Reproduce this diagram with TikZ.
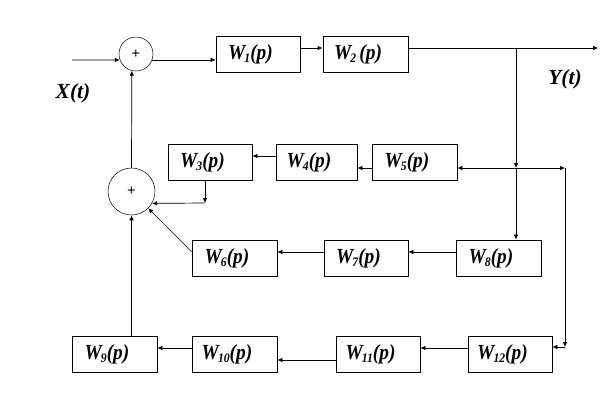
\documentclass[tikz,border=0pt]{standalone}
\usepackage{fontspec}
\setmainfont{Liberation Serif}
\usetikzlibrary{arrows.meta}
\newcommand\wlab[2][]{\scalebox{0.9}[1]{\textbf{\textit{W\kern-1pt\raisebox{-3pt}{\fontsize{13}{13}\selectfont #2}#1(p)}}}\hspace*{15pt}}
\tikzset{
  blk/.style={draw, line width=0.7pt, minimum height=36pt, inner sep=0pt, font=\fontsize{21.5}{21.5}\selectfont},
  sumc/.style={draw, circle, line width=0.5pt, inner sep=0pt, font=\bfseries\fontsize{15}{15}\selectfont},
  arr/.style={line width=0.7pt, -{Latex[length=5pt,width=4.5pt]}},
  ln/.style={line width=0.7pt},
  sig/.style={font=\bfseries\itshape\fontsize{21.5}{21.5}\selectfont}
}
\begin{document}
\begin{tikzpicture}[x=1pt,y=-1pt]
\useasboundingbox (0,0) rectangle (615,408);
% summing junctions
\node[sumc, minimum size=34pt] (s1) at (136,54) {+};
\node[sumc, minimum size=47pt] (s2) at (131.5,191.5) {+};
% blocks
\node[blk, minimum width=84pt] (W1) at (258,54) {\wlab{1}};
\node[blk, minimum width=85pt] (W2) at (365.5,54) {\wlab[\,]{2}};
\node[blk, minimum width=84pt] (W3) at (210,162.5) {\wlab{3}};
\node[blk, minimum width=81pt] (W4) at (316.5,162.5) {\wlab{4}};
\node[blk, minimum width=85pt] (W5) at (414.5,162.5) {\wlab{5}};
\node[blk, minimum width=85pt] (W6) at (234.5,258) {\wlab{6}};
\node[blk, minimum width=84pt] (W7) at (366,258) {\wlab{7}};
\node[blk, minimum width=85pt] (W8) at (498.5,258) {\wlab{8}};
\node[blk, minimum width=85pt] (W9) at (114.5,354) {\wlab{9}};
\node[blk, minimum width=85pt] (W10) at (234.5,354) {\wlab{10}};
\node[blk, minimum width=84pt] (W11) at (378,354) {\wlab{11}};
\node[blk, minimum width=84pt] (W12) at (510,354) {\wlab{12}};
% signal labels
\node[sig] (xt) at (73,93) {X(t)};
\node[sig] (yt) at (565,79) {Y(t)};
% coordinates
\coordinate (xin) at (72,60);
\coordinate (yout) at (598,48);
\coordinate (br) at (516,48);
\coordinate (cr) at (516,168);
\coordinate (rt) at (565,168);
\coordinate (rb) at (565,347);
\coordinate (w3d) at (205,203);
% connectors
\draw[arr] (xin) -- (s1.200);
\draw[arr] (s1.340) -- (s1.340 -| W1.west);
\draw[arr] ([yshift=6pt]W1.east) -- ([yshift=6pt]W1.east -| W2.west);
\draw[arr] ([yshift=6pt]W2.east) -- (yout);
\draw[arr] (br) -- (cr);
\draw[arr] (cr) -- (cr |- W8.north);
\draw[arr] (cr) -- (cr -| W5.east);
\draw[arr] (cr) -- (rt);
\draw[arr] (rt) -- (rb);
\draw[arr] (rb) -- (rb -| W12.east);
\draw[arr] ([yshift=-5.5pt]W5.west) -- ([yshift=-5.5pt]W5.west -| W4.east);
\draw[arr] ([yshift=6.5pt]W4.west) -- ([yshift=6.5pt]W4.west -| W3.east);
\draw[arr] (W3.south -| w3d) -- (w3d);
\draw[arr] (w3d) -- (s2.330.7);
\draw[ln, -{Latex[length=5pt,width=4.5pt]}, line width=0.5pt] ([yshift=6pt]W6.west) -- (s2.315);
\draw[arr] ([yshift=6pt]W7.west) -- ([yshift=6pt]W7.west -| W6.east);
\draw[arr] ([yshift=6pt]W8.west) -- ([yshift=6pt]W8.west -| W7.east);
\draw[arr] ([yshift=6pt]W12.west) -- ([yshift=6pt]W12.west -| W11.east);
\draw[arr] ([yshift=-6pt]W11.west) -- ([yshift=-6pt]W11.west -| W10.east);
\draw[arr] ([yshift=6pt]W10.west) -- ([yshift=6pt]W10.west -| W9.east);
\draw[arr] (s2.south |- W9.north) -- (s2.south);
\draw[arr] (s2.north) -- (s1.256);
\end{tikzpicture}
\end{document}
